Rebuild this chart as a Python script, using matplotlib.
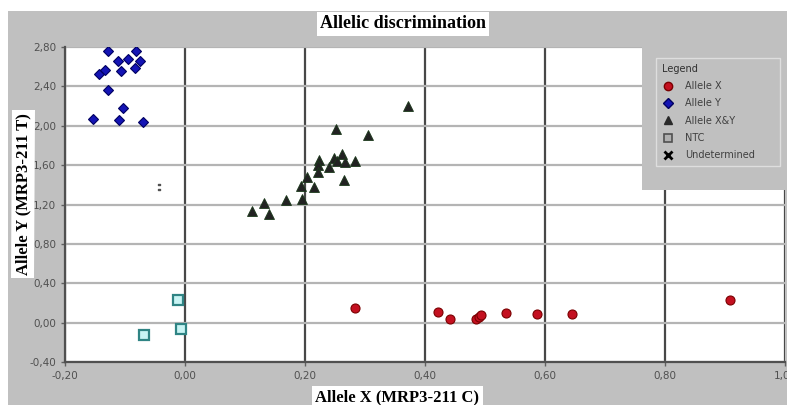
import matplotlib.pyplot as plt
from matplotlib.lines import Line2D
from matplotlib.patches import Rectangle
import numpy as np

# Allele X (red circles)
ax_x = [0.284, 0.422, 0.441, 0.485, 0.490, 0.494, 0.535, 0.587, 0.645, 0.909]
ax_y = [0.146, 0.105, 0.040, 0.040, 0.060, 0.075, 0.095, 0.085, 0.085, 0.230]

# Allele Y (blue diamonds)
ay_x = [-0.129, -0.081, -0.112, -0.095, -0.075, -0.144, -0.133, -0.106, -0.083,
        -0.128, -0.104, -0.153, -0.110, -0.070]
ay_y = [2.76, 2.76, 2.66, 2.68, 2.66, 2.53, 2.57, 2.56, 2.59,
        2.36, 2.18, 2.07, 2.06, 2.04]

# Allele X&Y (triangles)
xy_x = [0.372, 0.251, 0.305, 0.223, 0.221, 0.248, 0.262, 0.254, 0.266, 0.283,
        0.240, 0.222, 0.265, 0.204, 0.193, 0.215, 0.195, 0.168, 0.131, 0.111, 0.140]
xy_y = [2.20, 1.97, 1.91, 1.65, 1.60, 1.67, 1.71, 1.64, 1.63, 1.64,
        1.58, 1.53, 1.45, 1.48, 1.39, 1.38, 1.26, 1.25, 1.22, 1.13, 1.10]

# NTC (squares)
ntc_x = [-0.012, -0.007, -0.068]
ntc_y = [0.23, -0.067, -0.125]

# Undetermined
und_x = [-0.043]
und_y = [1.38]

xticks = [-0.2, 0.0, 0.2, 0.4, 0.6, 0.8, 1.0]
yticks = [-0.4, 0.0, 0.4, 0.8, 1.2, 1.6, 2.0, 2.4, 2.8]

W, H = 787, 405
fig = plt.figure(figsize=(W / 100, H / 100), dpi=100, facecolor='white')

# grey chart background
fig.patches.append(Rectangle((8 / W, 0), 1, 1 - 11 / H, transform=fig.transFigure,
                             facecolor='#c0c0c0', edgecolor='none', zorder=-5))

ax = fig.add_axes([65 / W, 1 - 362 / H, 720 / W, (362 - 47) / H])
ax.set_facecolor('white')
ax.set_xlim(-0.2, 1.0)
ax.set_ylim(-0.4, 2.8)
ax.set_xticks(xticks)
ax.set_yticks(yticks)
ax.set_xticklabels([f'{v:.2f}'.replace('.', ',') for v in xticks])
ax.set_yticklabels([f'{v:.2f}'.replace('.', ',') for v in yticks])
ax.tick_params(colors='#606060', labelcolor='#505050', labelsize=7.5,
               direction='out', length=3, width=1)

for v in xticks:
    ax.axvline(v, color='#484848', lw=1.6, zorder=1)
for v in yticks:
    ax.axhline(v, color='#b4b4b4', lw=1.6, zorder=1)

for s in ['top', 'right']:
    ax.spines[s].set_visible(False)
for s in ['left', 'bottom']:
    ax.spines[s].set_color('#505050')
    ax.spines[s].set_linewidth(1.6)

ax.plot(ax_x, ax_y, 'o', ms=6.5, mfc='#c41020', mec='#7a0000', mew=0.8, zorder=3)
ax.plot(ay_x, ay_y, 'D', ms=5, mfc='#1414b4', mec='#000060', mew=0.8, zorder=3)
ax.plot(xy_x, xy_y, '^', ms=6.5, mfc='#222222', mec='#1c3a1c', mew=0.6, zorder=3)
ax.plot(ntc_x, ntc_y, 's', ms=6.5, mfc='#c8f4f4', mec='#2f8484', mew=1.6, zorder=3)
ax.plot(und_x, und_y, marker='$:$', ms=5, color='#505050', ls='none', zorder=3)

serif = dict(family='Liberation Serif', weight='bold', color='black')
box = dict(facecolor='white', edgecolor='none', pad=2.5)
fig.text(403 / W, 1 - 24 / H, 'Allelic discrimination', ha='center', va='center',
         bbox=box, size=13, **serif)
fig.text(397 / W, 1 - 397 / H, 'Allele X (MRP3-211 C)', ha='center', va='center',
         bbox=box, size=12, **serif)
fig.text(23 / W, 1 - 194 / H, 'Allele Y (MRP3-211 T)', ha='center', va='center',
         rotation=90, bbox=box, size=12, **serif)

# legend panel
fig.patches.append(Rectangle((642 / W, 1 - 190 / H), 1, 179 / H, transform=fig.transFigure,
                             facecolor='#c0c0c0', edgecolor='none', zorder=2))
handles = [
    Line2D([], [], ls='none', marker='o', ms=6, mfc='#c41020', mec='#7a0000'),
    Line2D([], [], ls='none', marker='D', ms=5, mfc='#1414b4', mec='#000060'),
    Line2D([], [], ls='none', marker='^', ms=6, mfc='#2a2a2a', mec='#2a2a2a'),
    Line2D([], [], ls='none', marker='s', ms=6, mfc='#b0b0b0', mec='#505050', mew=1.2),
    Line2D([], [], ls='none', marker='x', ms=5.5, color='black', mew=2),
]
labels = ['Allele X', 'Allele Y', 'Allele X&Y', 'NTC', 'Undetermined']
leg = fig.legend(handles, labels, loc='upper left',
                 bbox_to_anchor=(656 / W, 1 - 172 / H, 124 / W, 114 / H),
                 bbox_transform=fig.transFigure, mode='expand', borderaxespad=0,
                 title='Legend', alignment='left',
                 fontsize=7, title_fontsize=7, frameon=True, fancybox=False,
                 facecolor='#c0c0c0', edgecolor='#e6e6e6', labelspacing=0.75,
                 handletextpad=1.2, borderpad=0.6, handlelength=1.2)
for t in leg.get_texts():
    t.set_color('#404040')
leg.get_title().set_color('#303030')
leg.set_zorder(6)

fig.savefig('out.png', dpi=100, facecolor='white')
